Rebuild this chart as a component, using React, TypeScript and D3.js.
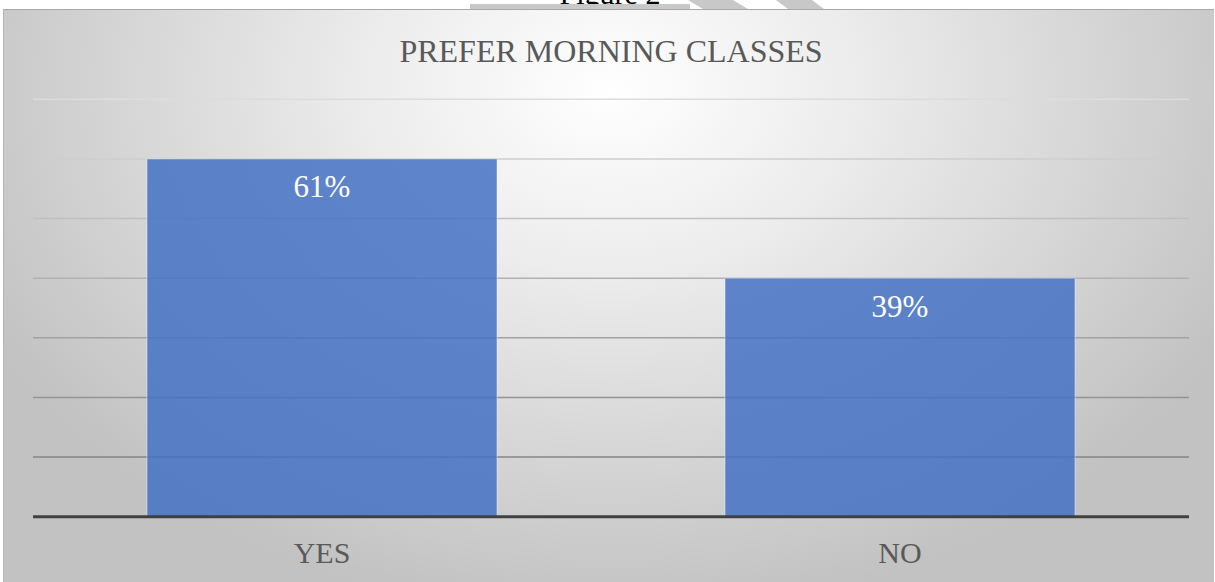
import React from "react";
import * as d3 from "d3";

const categories = ["YES", "NO"];
const barValues = [60, 40]; // bar heights as drawn (percent)
const dataLabels = ["61%", "39%"];
const yTicks = [10, 20, 30, 40, 50, 60, 70];
const chartTitle = "PREFER MORNING CLASSES";
const figureCaption = "Figure 2";

const W = 1215;
const H = 582;
const FONT = "'Liberation Serif', 'Times New Roman', serif";

export default function App() {
  const x = d3
    .scaleBand<string>()
    .domain(categories)
    .range([33, 1189])
    .paddingInner(0.3945)
    .paddingOuter(0.19725);
  const y = d3.scaleLinear().domain([0, 70]).range([516.7, 99.3]);
  const gridColor = d3
    .scaleLinear<string>()
    .domain([10, 70])
    .range(["#858585", "#dcdcdc"]);

  return (
    <svg
      width={W}
      height={H}
      style={{ position: "absolute", left: 0, top: 0, background: "#ffffff" }}
    >
      <defs>
        <radialGradient
          id="bg"
          gradientUnits="userSpaceOnUse"
          cx={610}
          cy={90}
          r={700}
          gradientTransform="translate(610 90) scale(1 0.75) translate(-610 -90)"
        >
          <stop offset="0" stopColor="#ffffff" />
          <stop offset="0.35" stopColor="#ececec" />
          <stop offset="1" stopColor="#c2c2c2" />
        </radialGradient>
      </defs>

      {/* caption above the chart (partly hidden by the chart box, as in the source) */}
      <text
        x={610}
        y={4}
        textAnchor="middle"
        fontFamily={FONT}
        fontSize={30}
        fill="#000"
      >
        {figureCaption}
      </text>
      <rect x={470} y={4} width={220} height={5} fill="#c8c8c8" />
      <polygon points="688,0 733,0 748,9 703,9" fill="#c8c8c8" />
      <polygon points="776,0 812,0 824,9 788,9" fill="#c8c8c8" />

      {/* chart area */}
      <rect x={3} y={9} width={1211} height={580} fill="url(#bg)" />
      <line x1={3} x2={1214} y1={9.5} y2={9.5} stroke="#a8a8a8" strokeWidth={1} />
      <line x1={3.5} x2={3.5} y1={9} y2={582} stroke="#b5b5b5" strokeWidth={1} />

      <text
        x={611}
        y={62}
        textAnchor="middle"
        fontFamily={FONT}
        fontSize={32}
        fill="#595959"
      >
        {chartTitle}
      </text>

      {/* gridlines */}
      {yTicks.map((t) => (
        <line
          key={t}
          x1={33}
          x2={1189}
          y1={y(t)}
          y2={y(t)}
          stroke={gridColor(t)}
          strokeWidth={1.5}
        />
      ))}

      {/* bars */}
      {categories.map((c, i) => (
        <rect
          key={c}
          x={x(c)}
          y={y(barValues[i])}
          width={x.bandwidth()}
          height={y(0) - y(barValues[i])}
          fill="#4472c4"
          fillOpacity={0.85}
          stroke="#ffffff"
          strokeOpacity={0.35}
          strokeWidth={1.2}
        />
      ))}

      {/* data labels */}
      {categories.map((c, i) => (
        <text
          key={c}
          x={(x(c) as number) + x.bandwidth() / 2}
          y={y(barValues[i]) + 38.5}
          textAnchor="middle"
          fontFamily={FONT}
          fontSize={31}
          fill="#ffffff"
        >
          {dataLabels[i]}
        </text>
      ))}

      {/* baseline */}
      <line x1={33} x2={1189} y1={y(0)} y2={y(0)} stroke="#404040" strokeWidth={3} />

      {/* category labels */}
      {categories.map((c) => (
        <text
          key={c}
          x={(x(c) as number) + x.bandwidth() / 2}
          y={562.7}
          textAnchor="middle"
          fontFamily={FONT}
          fontSize={30}
          fill="#595959"
        >
          {c}
        </text>
      ))}
    </svg>
  );
}
